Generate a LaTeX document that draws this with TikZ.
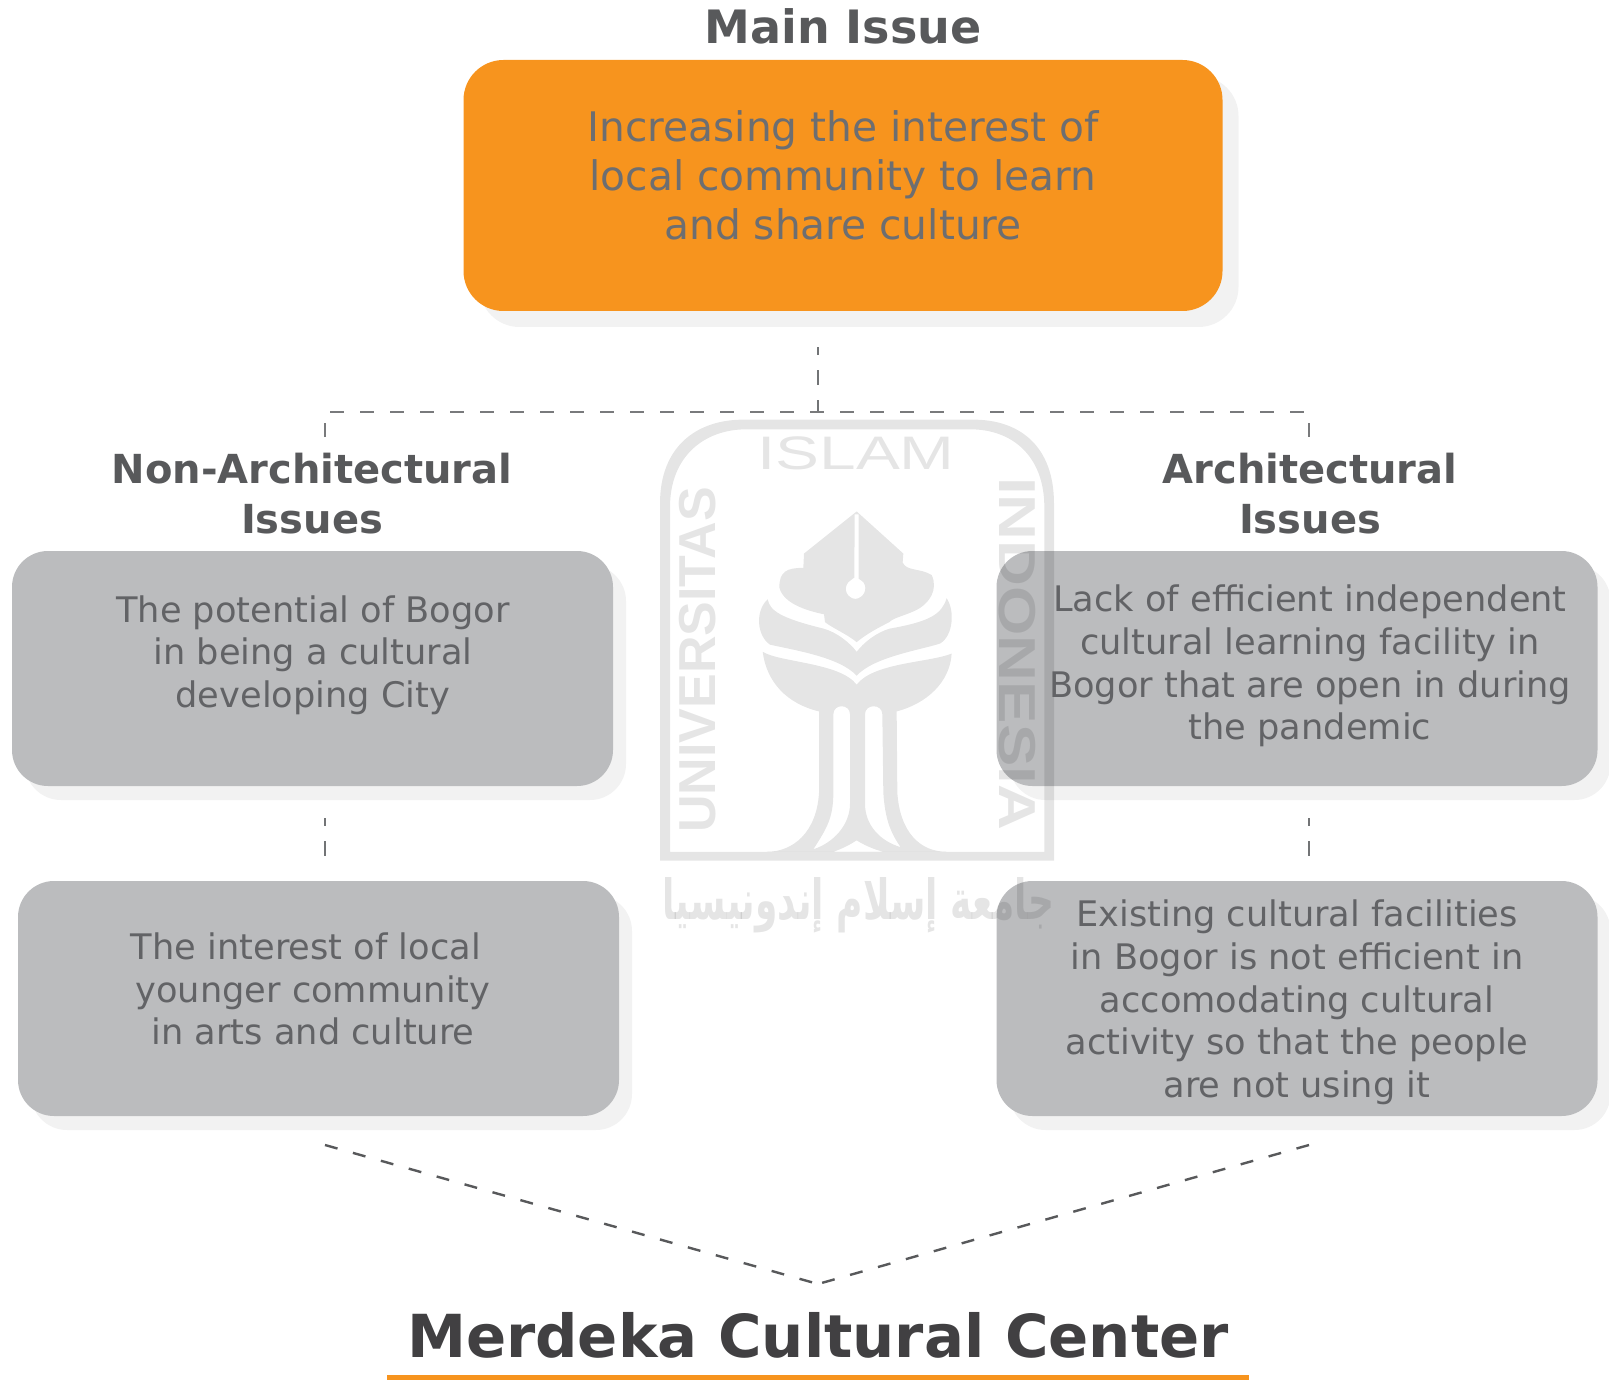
\documentclass[tikz,border=0pt]{standalone}
\usepackage{fontspec}
\setmainfont{DejaVu Sans}
\newfontfamily\wmfont{Liberation Sans}
\newfontfamily\arabicfont[Script=Arabic]{DejaVu Sans}
\TeXXeTstate=1
\usetikzlibrary{shadows}
\definecolor{orangebox}{HTML}{F7941E}
\definecolor{greybox}{HTML}{BBBCBE}
\definecolor{shadowgrey}{HTML}{F2F2F2}
\definecolor{bodygrey}{HTML}{626366}
\definecolor{orangetext}{HTML}{6D6E71}
\definecolor{headgrey}{HTML}{58595B}
\definecolor{titlegrey}{HTML}{414042}
\definecolor{dashgrey}{HTML}{58595B}
\newcommand{\fs}[2]{\fontsize{#1pt}{#2pt}\selectfont}
\tikzset{
  mainbox/.style={rounded corners=40pt,fill=orangebox,inner sep=0pt,minimum width=759pt,minimum height=251pt,
     general shadow={fill=shadowgrey,shadow xshift=16pt,shadow yshift=-16pt}},
  issuebox/.style={rounded corners=36pt,fill=greybox,inner sep=0pt,minimum width=601pt,minimum height=235pt,
     general shadow={fill=shadowgrey,shadow xshift=13pt,shadow yshift=-14pt}},
  bodytext/.style={align=center,inner sep=0pt,text=bodygrey,font=\fs{35.2}{42.7}},
  maintext/.style={align=center,inner sep=0pt,text=orangetext,font=\fs{40.7}{49}},
  headtext/.style={align=center,inner sep=0pt,text=headgrey,font=\bfseries\fs{40}{50}},
  bighead/.style={align=center,inner sep=0pt,text=headgrey,font=\bfseries\fs{46}{50}},
  titletext/.style={inner sep=0pt,text=titlegrey,font=\bfseries\fs{59.3}{70}},
  hdash/.style={draw=dashgrey!80,line width=2.2pt,dash pattern=on 14pt off 16pt},
  vdash/.style={draw=dashgrey!130!black,line width=1.6pt,dash pattern=on 15pt off 15pt,dash phase=7pt},
  ddash/.style={draw=dashgrey,line width=2.4pt,dash pattern=on 13pt off 16pt},
  wmark/.style={fill=black,fill opacity=.1,draw=none},
  wmtext/.style={inner sep=0pt,text=black,text opacity=.1},
}
\begin{document}
\begin{tikzpicture}[x=1pt,y=-1pt]
\useasboundingbox (0,0) rectangle (1609,1380);

% boxes
\node[mainbox] (mainb) at (843,185.5) {};
\node[issuebox,minimum width=601pt] (nonA) at (312.5,668.5) {};
\node[issuebox] (nonB) at (318.5,998.5) {};
\node[issuebox] (archA) at (1297,668.5) {};
\node[issuebox] (archB) at (1297,998.5) {};

% connector end points
\coordinate (mainfoot) at (818,347);
\coordinate (junction) at (818,412);
\coordinate (leftcorner) at (325,412);
\coordinate (rightcorner) at (1309,412);
\coordinate (leftdrop) at (325,437);
\coordinate (rightdrop) at (1309,437);
\coordinate (nonAfoot) at (325,818);
\coordinate (nonBtop) at (325,863);
\coordinate (archAfoot) at (1309,818);
\coordinate (archBtop) at (1309,863);
\coordinate (nonBfoot) at (325,1145);
\coordinate (archBfoot) at (1309,1145);
\coordinate (apex) at (818,1284);

% watermark
\begin{scope}[shift={(620pt,-400pt)},x=0.33333pt,y=-0.35714pt]
  \path[wmark,even odd rule]
    (120,1290) -- (120,290) .. controls (120,130) and (230,55) .. (370,55)
    -- (1060,55) .. controls (1200,55) and (1302,130) .. (1302,290) -- (1302,1290) -- cycle
    (150,1265) -- (150,300) .. controls (150,160) and (250,82) .. (380,82)
    -- (1050,82) .. controls (1180,82) and (1273,160) .. (1273,300) -- (1273,1265) -- cycle;
  % nib leaf
  \path[wmark,even odd rule]
    (710,312) -- (850,430) -- (848,455) .. controls (860,480) and (900,470) .. (935,490)
    .. controls (955,530) and (930,570) .. (885,590)
    .. controls (850,605) and (820,610) .. (808,622) .. controls (770,640) and (740,655) .. (710,678)
    .. controls (680,655) and (640,640) .. (615,622) -- (612,600)
    .. controls (560,590) and (490,570) .. (478,525) .. controls (478,480) and (500,470) .. (550,470)
    -- (552,430) -- cycle
    (704,320) -- (716,320) -- (716,500) -- (730,510) .. controls (745,530) and (730,555) .. (706,557)
    .. controls (682,555) and (668,530) .. (685,510) -- (703,497) -- cycle;
  % middle band
  \path[wmark]
    (443,558) .. controls (450,590) and (480,610) .. (610,640) .. controls (650,650) and (690,680) .. (710,705)
    .. controls (730,680) and (770,650) .. (810,640) .. controls (930,620) and (965,600) .. (980,555)
    .. controls (1005,590) and (1000,660) .. (960,682) .. controls (900,700) and (760,720) .. (710,772)
    .. controls (660,720) and (520,700) .. (450,685) .. controls (410,660) and (405,590) .. (443,558) -- cycle;
  % lower band and trunk
  \path[wmark,even odd rule]
    (428,705) .. controls (480,735) and (660,735) .. (710,797)
    .. controls (760,735) and (930,735) .. (995,710)
    .. controls (990,790) and (920,850) .. (830,872)
    -- (832,1100) .. controls (840,1210) and (900,1265) .. (980,1265)
    -- (440,1265) .. controls (520,1265) and (590,1210) .. (597,1100)
    -- (597,872) .. controls (500,850) and (440,790) .. (428,705) -- cycle
    (640,880) .. controls (640,850) and (690,850) .. (690,880)
    -- (690,1130) .. controls (690,1190) and (640,1240) .. (580,1258)
    .. controls (620,1200) and (640,1170) .. (640,1100) -- cycle
    (735,880) .. controls (735,850) and (787,850) .. (787,880)
    -- (790,1100) .. controls (795,1170) and (810,1210) .. (842,1252)
    .. controls (780,1235) and (735,1190) .. (735,1130) -- cycle
    (640,1265) .. controls (670,1255) and (690,1245) .. (710,1233)
    .. controls (730,1245) and (760,1258) .. (790,1265) -- cycle;
  % lettering
  \node[wmtext,font=\wmfont\fs{47}{50}] (wmislam) at (708,148) {\scalebox{1.4}[1]{ISLAM}};
  \node[wmtext,font=\wmfont\bfseries\fs{52}{56},rotate=90] (wmuniv) at (232,728) {UNIVERSITAS};
  \node[wmtext,font=\wmfont\bfseries\fs{52}{56},rotate=-90] (wmindo) at (1192,710) {\scalebox{1.22}[1]{INDONESIA}};
  \node[wmtext,font=\bfseries] (wmarab) at (715,1415) {\resizebox{392pt}{42pt}{\arabicfont\beginR جامعة إسلام إندونيسيا\endR}};
\end{scope}

% connectors
\draw[vdash] (mainfoot) -- (junction);
\draw[hdash] (leftdrop) -- (leftcorner) -- (junction) -- (rightcorner) -- (rightdrop);
\draw[vdash] (nonAfoot) -- (nonBtop);
\draw[vdash] (archAfoot) -- (archBtop);
\draw[ddash] (nonBfoot) -- (apex);
\draw[ddash] (archBfoot) -- (apex);

% texts
\node[bighead] (mainhead) at (843,26) {Main Issue};
\node[maintext] (maintxt) at (843,175.5) {Increasing the interest of\\local community to learn\\and share culture};
\node[headtext] (nonhead) at (312,494) {Non-Architectural\\Issues};
\node[headtext] (archhead) at (1310,494) {Architectural\\Issues};
\node[bodytext] (nonAtxt) at (313,655) {The potential of Bogor\\in being a cultural\\developing City};
\node[bodytext] (nonBtxt) at (313,989) {The interest of local\hspace*{14pt}\\younger community\\in arts and culture};
\node[bodytext] (archAtxt) at (1310,666) {Lack of efficient independent\\cultural learning facility in\\Bogor that are open in during\\the pandemic};
\node[bodytext] (archBtxt) at (1297,1002.5) {Existing cultural facilities\\in Bogor is not efficient in\\accomodating cultural\\activity so that the people\\are not using it};
\node[titletext] (title) at (818,1335) {Merdeka Cultural Center};
\node[fill=orangebox,inner sep=0pt,minimum width=862pt,minimum height=5pt] (titlebar) at (818,1377.5) {};
\end{tikzpicture}
\end{document}
